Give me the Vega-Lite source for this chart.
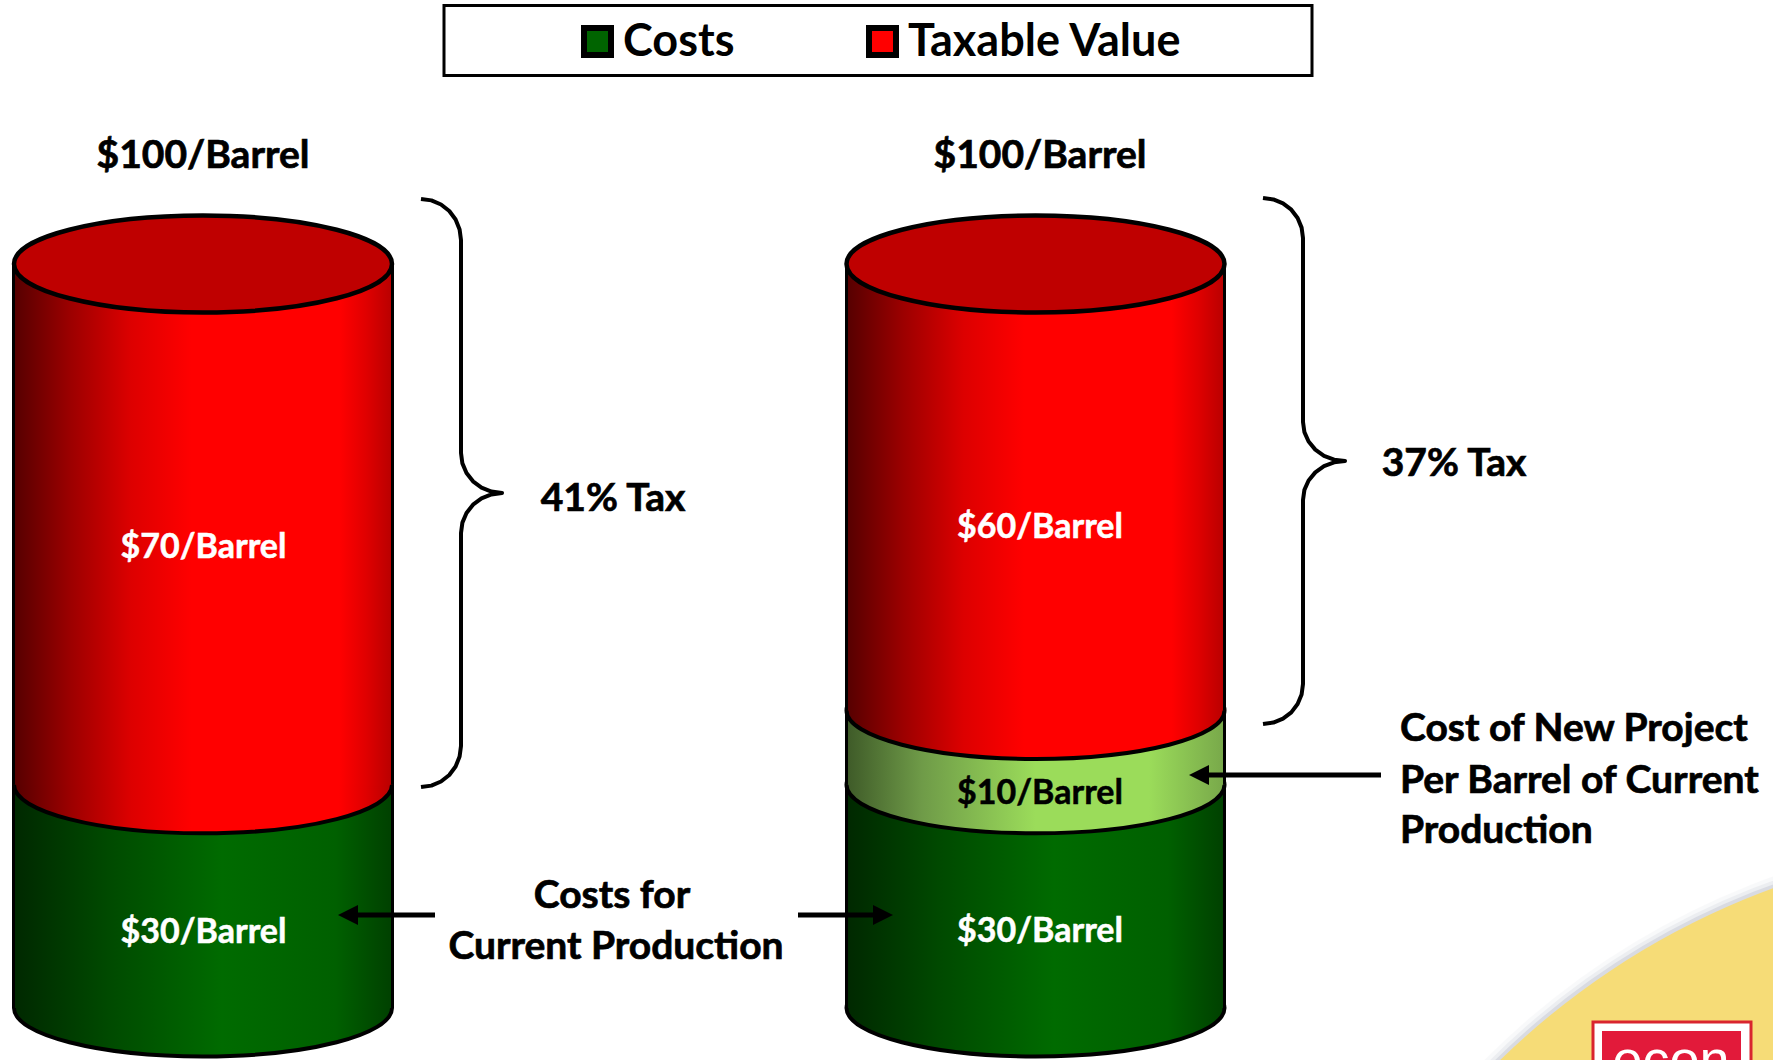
{
"$schema":"https://vega.github.io/schema/vega-lite/v6.json",
"width":1773,"height":1060,"padding":0,"autosize":{"type":"none"},"background":"#ffffff",
"view":{"stroke":null},
"datasets":{
"segments":[
{"cylinder":"left","segment":"Costs","x":13.5,"xMid":203,"xEnd":392.5,"y":0,"yEnd":30},
{"cylinder":"left","segment":"Taxable Value","x":13.5,"xMid":203,"xEnd":392.5,"y":30,"yEnd":100},
{"cylinder":"right","segment":"Costs","x":846.5,"xMid":1035.5,"xEnd":1224.5,"y":0,"yEnd":30},
{"cylinder":"right","segment":"New Project Cost","x":846.5,"xMid":1035.5,"xEnd":1224.5,"y":30,"yEnd":40},
{"cylinder":"right","segment":"Taxable Value","x":846.5,"xMid":1035.5,"xEnd":1224.5,"y":40,"yEnd":100}],
"braces":[
{"brace":"left","i":0,"x":421,"y":108.74},{"brace":"left","i":1,"x":431.4,"y":108.55},{"brace":"left","i":2,"x":441,"y":108.0},{"brace":"left","i":3,"x":449.3,"y":107.12},{"brace":"left","i":4,"x":455.6,"y":105.98},{"brace":"left","i":5,"x":459.6,"y":104.65},{"brace":"left","i":6,"x":461,"y":103.23},
{"brace":"left","i":7,"x":461,"y":74.6},{"brace":"left","i":8,"x":462.4,"y":73.2},{"brace":"left","i":9,"x":466.5,"y":71.91},{"brace":"left","i":10,"x":473,"y":70.79},{"brace":"left","i":11,"x":481.5,"y":69.95},{"brace":"left","i":12,"x":491.4,"y":69.41},{"brace":"left","i":13,"x":502,"y":69.22},
{"brace":"left","i":14,"x":491.4,"y":69.03},{"brace":"left","i":15,"x":481.5,"y":68.49},{"brace":"left","i":16,"x":473,"y":67.65},{"brace":"left","i":17,"x":466.5,"y":66.53},{"brace":"left","i":18,"x":462.4,"y":65.24},{"brace":"left","i":19,"x":461,"y":63.84},
{"brace":"left","i":20,"x":461,"y":35.22},{"brace":"left","i":21,"x":459.6,"y":33.79},{"brace":"left","i":22,"x":455.6,"y":32.46},{"brace":"left","i":23,"x":449.3,"y":31.32},{"brace":"left","i":24,"x":441,"y":30.44},{"brace":"left","i":25,"x":431.4,"y":29.89},{"brace":"left","i":26,"x":421,"y":29.7},
{"brace":"right","i":0,"x":1263,"y":108.87},{"brace":"right","i":1,"x":1273.4,"y":108.68},{"brace":"right","i":2,"x":1283,"y":108.15},{"brace":"right","i":3,"x":1291.3,"y":107.3},{"brace":"right","i":4,"x":1297.6,"y":106.18},{"brace":"right","i":5,"x":1301.6,"y":104.89},{"brace":"right","i":6,"x":1303,"y":103.49},
{"brace":"right","i":7,"x":1303,"y":78.76},{"brace":"right","i":8,"x":1304.4,"y":77.41},{"brace":"right","i":9,"x":1308.6,"y":76.14},{"brace":"right","i":10,"x":1315.3,"y":75.05},{"brace":"right","i":11,"x":1324,"y":74.22},{"brace":"right","i":12,"x":1334.1,"y":73.7},{"brace":"right","i":13,"x":1345,"y":73.52},
{"brace":"right","i":14,"x":1334.1,"y":73.35},{"brace":"right","i":15,"x":1324,"y":72.82},{"brace":"right","i":16,"x":1315.3,"y":71.99},{"brace":"right","i":17,"x":1308.6,"y":70.9},{"brace":"right","i":18,"x":1304.4,"y":69.64},{"brace":"right","i":19,"x":1303,"y":68.28},
{"brace":"right","i":20,"x":1303,"y":43.55},{"brace":"right","i":21,"x":1301.6,"y":42.15},{"brace":"right","i":22,"x":1297.6,"y":40.86},{"brace":"right","i":23,"x":1291.3,"y":39.74},{"brace":"right","i":24,"x":1283,"y":38.9},{"brace":"right","i":25,"x":1273.4,"y":38.36},{"brace":"right","i":26,"x":1263,"y":38.17}],
"arrows":[
{"x":435,"xEnd":348,"y":12.5,"dir":"left"},
{"x":798,"xEnd":883,"y":12.5,"dir":"right"},
{"x":1381,"xEnd":1199,"y":31.32,"dir":"left"}]
},
"encoding":{
"x":{"field":"x","type":"quantitative","scale":{"domain":[0,1773],"nice":false,"zero":false},"axis":null},
"y":{"field":"y","type":"quantitative","scale":{"domain":[-6.989,135.484],"nice":false,"zero":false},"axis":null}
},
"layer":[
{"data":{"values":[{"x":2038.5,"y":-81.18}]},"mark":{"type":"point","filled":false,"size":2377764,"stroke":"#8f93a8","strokeWidth":22,"opacity":0.05}},
{"data":{"values":[{"x":2038.5,"y":-81.18}]},"mark":{"type":"point","filled":false,"size":2377764,"stroke":"#8f93a8","strokeWidth":14,"opacity":0.1}},
{"data":{"values":[{"x":2038.5,"y":-81.18}]},"mark":{"type":"point","filled":false,"size":2377764,"stroke":"#8f93a8","strokeWidth":7,"opacity":0.2}},
{"data":{"values":[{"x":2038.5,"y":-81.18}]},"mark":{"type":"point","filled":true,"size":2377764,"fill":"#f6dc77","opacity":1}},
{"data":{"values":[{"x":1593,"xEnd":1751,"y":-1.88,"yEnd":-12}]},"mark":{"type":"rect","fill":"#ffffff","stroke":"#d9252e","strokeWidth":3},"encoding":{"x2":{"field":"xEnd"},"y2":{"field":"yEnd"}}},
{"data":{"values":[{"x":1602,"xEnd":1741,"y":-3.09,"yEnd":-12}]},"mark":{"type":"rect","fill":"#e21a3a"},"encoding":{"x2":{"field":"xEnd"},"y2":{"field":"yEnd"}}},
{"data":{"values":[{"x":1671,"y":-9.41,"label":"econ"}]},"mark":{"type":"text","font":"Liberation Sans","fontSize":54,"fill":"#ffffff","align":"center","baseline":"alphabetic"},"encoding":{"text":{"field":"label"}}},
{"data":{"values":[{"x":444,"xEnd":1312,"y":134.74,"yEnd":125.33}]},"mark":{"type":"rect","fill":"#ffffff","stroke":"#000000","strokeWidth":3},"encoding":{"x2":{"field":"xEnd"},"y2":{"field":"yEnd"}}},
{"data":{"name":"segments"},"mark":{"type":"rect"},"encoding":{"x2":{"field":"xEnd"},"y2":{"field":"yEnd"},
 "color":{"field":"segment","type":"nominal","scale":{"domain":["Costs","Taxable Value","New Project Cost"],"range":["#006400","#ff0000","#9bdc5a"]},
 "legend":{"values":["Costs","Taxable Value"],"orient":"none","legendX":575,"legendY":19,"columns":2,"title":null,"symbolType":"square","symbolSize":729,"symbolStrokeColor":"#000000","symbolStrokeWidth":6,"symbolOpacity":1,"labelFont":"Lato","labelFontWeight":"bold","labelFontSize":45,"labelColor":"#000000","labelOffset":3,"columnPadding":122,"padding":0,"labelLimit":400}}}},

{"data":{"name":"segments"},"transform":[{"filter":"datum.segment==='Costs'"}],"mark":{"type":"point","filled":true,"opacity":1,"size":142884,"shape":"M-1 0A1 0.2566 0 1 0 1 0A1 0.2566 0 1 0 -1 0Z","stroke":"#000000","strokeWidth":4,
 "fill":{"gradient":"linear","x1":0,"x2":1,"y1":0,"y2":0,"stops":[{"offset":0,"color":"#002800"},{"offset":0.25,"color":"#004a00"},{"offset":0.45,"color":"#006000"},{"offset":0.55,"color":"#006b00"},{"offset":0.85,"color":"#006000"},{"offset":1,"color":"#004000"}]}},
 "encoding":{"x":{"field":"xMid","type":"quantitative","scale":{"domain":[0,1773],"nice":false,"zero":false},"axis":null}}},
{"data":{"name":"segments"},"transform":[{"filter":"datum.segment==='Costs'"}],"mark":{"type":"rect",
 "fill":{"gradient":"linear","x1":0,"x2":1,"y1":0,"y2":0,"stops":[{"offset":0,"color":"#002800"},{"offset":0.25,"color":"#004a00"},{"offset":0.45,"color":"#006000"},{"offset":0.55,"color":"#006b00"},{"offset":0.85,"color":"#006000"},{"offset":1,"color":"#004000"}]}},
 "encoding":{"x2":{"field":"xEnd"},"y2":{"field":"yEnd"}}},

{"data":{"name":"segments"},"transform":[{"filter":"datum.segment==='New Project Cost'"}],"mark":{"type":"point","filled":true,"opacity":1,"size":142884,"shape":"M-1 0A1 0.2566 0 1 0 1 0A1 0.2566 0 1 0 -1 0Z","stroke":"#000000","strokeWidth":4,
 "fill":{"gradient":"linear","x1":0,"x2":1,"y1":0,"y2":0,"stops":[{"offset":0,"color":"#3e5a28"},{"offset":0.2,"color":"#6f9b48"},{"offset":0.5,"color":"#9bdc5a"},{"offset":0.8,"color":"#9bdc5a"},{"offset":1,"color":"#78a84a"}]}},
 "encoding":{"x":{"field":"xMid","type":"quantitative","scale":{"domain":[0,1773],"nice":false,"zero":false},"axis":null}}},
{"data":{"name":"segments"},"transform":[{"filter":"datum.segment==='New Project Cost'"}],"mark":{"type":"rect",
 "fill":{"gradient":"linear","x1":0,"x2":1,"y1":0,"y2":0,"stops":[{"offset":0,"color":"#3e5a28"},{"offset":0.2,"color":"#6f9b48"},{"offset":0.5,"color":"#9bdc5a"},{"offset":0.8,"color":"#9bdc5a"},{"offset":1,"color":"#78a84a"}]}},
 "encoding":{"x2":{"field":"xEnd"},"y2":{"field":"yEnd"}}},

{"data":{"name":"segments"},"transform":[{"filter":"datum.segment==='Taxable Value'"}],"mark":{"type":"point","filled":true,"opacity":1,"size":142884,"shape":"M-1 0A1 0.2566 0 1 0 1 0A1 0.2566 0 1 0 -1 0Z","stroke":"#000000","strokeWidth":4,
 "fill":{"gradient":"linear","x1":0,"x2":1,"y1":0,"y2":0,"stops":[{"offset":0,"color":"#550000"},{"offset":0.15,"color":"#9c0000"},{"offset":0.31,"color":"#dd0000"},{"offset":0.47,"color":"#ff0000"},{"offset":0.86,"color":"#ff0000"},{"offset":0.93,"color":"#e00000"},{"offset":1,"color":"#b80000"}]}},
 "encoding":{"x":{"field":"xMid","type":"quantitative","scale":{"domain":[0,1773],"nice":false,"zero":false},"axis":null}}},
{"data":{"name":"segments"},"transform":[{"filter":"datum.segment==='Taxable Value'"}],"mark":{"type":"rect",
 "fill":{"gradient":"linear","x1":0,"x2":1,"y1":0,"y2":0,"stops":[{"offset":0,"color":"#550000"},{"offset":0.15,"color":"#9c0000"},{"offset":0.31,"color":"#dd0000"},{"offset":0.47,"color":"#ff0000"},{"offset":0.86,"color":"#ff0000"},{"offset":0.93,"color":"#e00000"},{"offset":1,"color":"#b80000"}]}},
 "encoding":{"x2":{"field":"xEnd"},"y2":{"field":"yEnd"}}},

{"data":{"name":"segments"},"mark":{"type":"rule","stroke":"#000000","strokeWidth":3},"encoding":{"y2":{"field":"yEnd"}}},
{"data":{"name":"segments"},"mark":{"type":"rule","stroke":"#000000","strokeWidth":3},"encoding":{"x":{"field":"xEnd","type":"quantitative","scale":{"domain":[0,1773],"nice":false,"zero":false},"axis":null},"y2":{"field":"yEnd"}}},

{"data":{"name":"segments"},"transform":[{"filter":"datum.segment==='Taxable Value'"}],"mark":{"type":"point","filled":true,"opacity":1,"size":142884,"shape":"M-1 0A1 0.2566 0 1 0 1 0A1 0.2566 0 1 0 -1 0Z","stroke":"#000000","strokeWidth":4.5,"fill":"#bf0000"},
 "encoding":{"x":{"field":"xMid","type":"quantitative","scale":{"domain":[0,1773],"nice":false,"zero":false},"axis":null},"y":{"field":"yEnd","type":"quantitative","scale":{"domain":[-6.989,135.484],"nice":false,"zero":false},"axis":null}}},

{"data":{"name":"braces"},"mark":{"type":"line","stroke":"#000000","strokeWidth":4,"strokeCap":"butt","strokeJoin":"round"},"encoding":{"detail":{"field":"brace"},"order":{"field":"i","type":"quantitative"}}},

{"data":{"name":"arrows"},"mark":{"type":"rule","stroke":"#000000","strokeWidth":5},"encoding":{"x2":{"field":"xEnd"}}},
{"data":{"name":"arrows"},"mark":{"type":"point","filled":true,"fill":"#000000","opacity":1,"size":400,"strokeWidth":0},"encoding":{"x":{"field":"xEnd","type":"quantitative","scale":{"domain":[0,1773],"nice":false,"zero":false},"axis":null},"shape":{"field":"dir","type":"nominal","scale":{"domain":["left","right"],"range":["M-1 0L1 -1L1 1Z","M1 0L-1 -1L-1 1Z"]},"legend":null}}},

{"data":{"values":[
{"label":"$100/Barrel","x":203,"y":112.9},{"label":"$100/Barrel","x":1040,"y":112.9},
{"label":"41% Tax","x":613,"y":66.8},{"label":"37% Tax","x":1454,"y":71.51},
{"label":"Costs for","x":612,"y":13.44},{"label":"Current Production","x":616,"y":6.59}]},
"mark":{"type":"text","font":"Lato","fontWeight":"bold","fontSize":39,"fill":"#000000","stroke":"#000000","strokeWidth":0.7,"align":"center","baseline":"alphabetic"},"encoding":{"text":{"field":"label"}}},
{"data":{"values":[
{"label":"Cost of New Project","x":1400,"y":35.89},{"label":"Per Barrel of Current","x":1400,"y":28.9},{"label":"Production","x":1400,"y":22.18}]},
"mark":{"type":"text","font":"Lato","fontWeight":"bold","fontSize":39,"fill":"#000000","stroke":"#000000","strokeWidth":0.7,"align":"left","baseline":"alphabetic"},"encoding":{"text":{"field":"label"}}},
{"data":{"values":[
{"label":"$70/Barrel","x":203.5,"y":60.48},{"label":"$30/Barrel","x":203.5,"y":8.74},
{"label":"$60/Barrel","x":1040,"y":63.17},{"label":"$30/Barrel","x":1040,"y":8.87}]},
"mark":{"type":"text","font":"Lato","fontWeight":"bold","fontSize":34,"fill":"#ffffff","stroke":"#ffffff","strokeWidth":0.5,"align":"center","baseline":"alphabetic"},"encoding":{"text":{"field":"label"}}},
{"data":{"values":[{"label":"$10/Barrel","x":1040,"y":27.42}]},
"mark":{"type":"text","font":"Lato","fontWeight":"bold","fontSize":34,"fill":"#000000","stroke":"#000000","strokeWidth":0.5,"align":"center","baseline":"alphabetic"},"encoding":{"text":{"field":"label"}}}
]
}
